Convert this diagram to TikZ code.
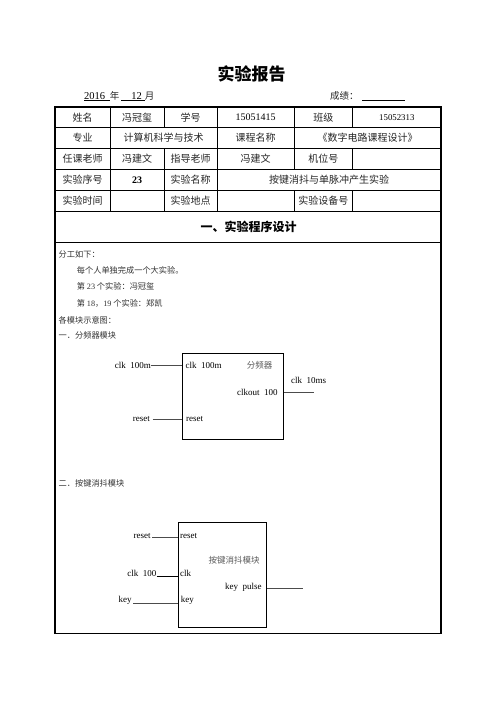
\documentclass[tikz,border=0pt]{standalone}
\usepackage{fontspec}
\usetikzlibrary{calc}
\setmainfont{Liberation Serif}
\newfontfamily\cjk{Noto Sans CJK SC}
\newfontfamily\tm{Liberation Serif}
\newcommand\gp{\hspace{0.5em}}
\begin{document}
\begin{tikzpicture}[x=1pt,y=-1pt,
  tcell/.style={inner sep=0, text=black!85, font=\cjk\fontsize{10}{12}\selectfont},
  tnum/.style={inner sep=0, text=black, font=\tm\fontsize{10}{12}\selectfont},
  body/.style={anchor=west, inner sep=0, text=black!80, font=\cjk\fontsize{8.2}{10}\selectfont},
  lbl/.style={inner sep=0, text=black, font=\tm\fontsize{9}{10}\selectfont},
  blabel/.style={inner sep=0, text=black!65, font=\cjk\fontsize{8.5}{10}\selectfont},
  inner/.style={line width=0.6pt, black},
  outer/.style={line width=1.2pt, black},
  wire/.style={line width=0.9pt, black!70},
  modbox/.style={draw, line width=0.9pt, inner sep=0, fill=none}
]
\useasboundingbox (0,0) rectangle (496,702);
\fill[white] (0,0) rectangle (496,702);

% title
\node[inner sep=0, font=\cjk\bfseries\fontsize{17}{20}\selectfont] (title) at (251.7,73.5) {实验报告};

% date line
\node[tnum, anchor=base, font=\tm\fontsize{10.5}{12}\selectfont] (yr) at (94.5,99) {2016};
\node[tcell, font=\cjk\fontsize{9.5}{12}\selectfont] (nian) at (114.5,96) {年};
\node[tnum, anchor=base, font=\tm\fontsize{10.5}{12}\selectfont] (mo) at (136.5,99) {12};
\node[tcell, font=\cjk\fontsize{9.5}{12}\selectfont] (yue) at (149.5,96) {月};
\draw[line width=0.7pt] (84,100.6) -- (110,100.6);
\draw[line width=0.7pt] (121,100.6) -- (145,100.6);
\node[tcell, anchor=west, font=\cjk\fontsize{9.5}{12}\selectfont] (cj) at (330,96) {成绩：};
\draw[line width=0.7pt] (362,100.6) -- (405,100.6);

% table lines
\foreach \yy in {127.7,148.3,169.3,190.3,211.7,242.7}
  \draw[inner] (55,\yy) -- (441,\yy);
\draw[inner] (110,107) -- (110,211.7);
\draw[inner] (164.3,107) -- (164.3,127.7);
\draw[inner] (164.3,148.3) -- (164.3,211.7);
\draw[inner] (217,107) -- (217,211.7);
\draw[inner] (294,107) -- (294,169.3);
\draw[inner] (294,190.3) -- (294,211.7);
\draw[inner] (352.7,107) -- (352.7,127.7);
\draw[inner] (352.7,148.3) -- (352.7,169.3);
\draw[inner] (352.7,190.3) -- (352.7,211.7);
\draw[outer] (55,107) rectangle (441,633.3);

% row 1
\node[tcell] (r1a) at (82.5,117.3) {姓名};
\node[tcell] (r1b) at (137,117.3) {冯冠玺};
\node[tcell] (r1c) at (190.7,117.3) {学号};
\node[tnum] (r1d) at (255.5,117.6) {15051415};
\node[tcell] (r1e) at (323.3,117.3) {班级};
\node[tnum, font=\tm\fontsize{8.8}{10}\selectfont] (r1f) at (396.8,118) {15052313};
% row 2
\node[tcell] (r2a) at (82.5,138) {专业};
\node[tcell] (r2b) at (163.5,138) {计算机科学与技术};
\node[tcell] (r2c) at (255.5,138) {课程名称};
\node[tcell] (r2d) at (367.5,138) {《数字电路课程设计》};
% row 3
\node[tcell] (r3a) at (82.5,158.8) {任课老师};
\node[tcell] (r3b) at (137,158.8) {冯建文};
\node[tcell] (r3c) at (190.7,158.8) {指导老师};
\node[tcell] (r3d) at (255.5,158.8) {冯建文};
\node[tcell] (r3e) at (323.3,158.8) {机位号};
% row 4
\node[tcell] (r4a) at (82.5,179.8) {实验序号};
\node[tnum, font=\tm\bfseries\fontsize{10}{12}\selectfont] (r4b) at (137,180) {23};
\node[tcell] (r4c) at (190.7,179.8) {实验名称};
\node[tcell] (r4d) at (329,179.8) {按键消抖与单脉冲产生实验};
% row 5
\node[tcell] (r5a) at (82.5,201) {实验时间};
\node[tcell] (r5c) at (190.7,201) {实验地点};
\node[tcell] (r5e) at (323.3,201) {实验设备号};

% heading
\node[inner sep=0, font=\cjk\bfseries\fontsize{12}{14}\selectfont] (head) at (248.5,227.2) {一、实验程序设计};

% body text
\node[body] (t1) at (58.5,254.3) {分工如下：};
\node[body] (t2) at (76.7,270.3) {每个人单独完成一个大实验。};
\node[body] (t3) at (76.7,286.7) {第 {\tm 23} 个实验：冯冠玺};
\node[body] (t4) at (76.7,303.3) {第 {\tm 18}，{\tm 19} 个实验：郑凯};
\node[body] (t5) at (58.5,320.5) {各模块示意图：};
\node[body] (t6) at (58.5,335.7) {一．分频器模块};
\node[body] (t7) at (58.5,483.5) {二．按键消抖模块};

% module 1: divider
\node[modbox, minimum width=101pt, minimum height=85.7pt] (box1) at (232.8,396.2) {};
\node[lbl, anchor=east] (a1) at (151,365.7) {clk\gp100m};
\node[lbl, anchor=west] (a1i) at (185.5,365.7) {clk\gp100m};
\node[blabel] (b1t) at (259.7,365.5) {分频器};
\node[lbl, anchor=west] (o1l) at (291,380) {clk\gp10ms};
\node[lbl, anchor=east] (o1i) at (277.7,392.3) {clkout\gp100};
\node[lbl, anchor=east] (r1) at (150,419.2) {reset};
\node[lbl, anchor=west] (r1i) at (186,419.2) {reset};
\coordinate (o1) at (314.3,392.9);
\draw[wire] (a1.east) -- (a1.east -| box1.west);
\draw[wire] ($(r1.east)+(2.5,0)$) -- (r1.east -| box1.west);
\draw[wire] (o1 -| box1.east) -- (o1);

% module 2: debounce
\node[modbox, minimum width=88.4pt, minimum height=105pt] (box2) at (222.5,574.8) {};
\node[lbl, anchor=east] (r2) at (150.7,535.8) {reset};
\node[lbl, anchor=west] (r2i) at (180,535.8) {reset};
\node[blabel] (b2t) at (234,560.7) {按键消抖模块};
\node[lbl, anchor=east] (c2) at (156.5,573.5) {clk\gp100};
\node[lbl, anchor=west] (c2i) at (180,573.5) {clk};
\node[lbl, anchor=east] (kp) at (261.7,587.2) {key\gp pulse};
\node[lbl, anchor=east] (k2) at (131.7,600.8) {key};
\node[lbl, anchor=west] (k2i) at (180.7,600.8) {key};
\coordinate (o2) at (302.7,588.4);
\coordinate (rr2) at (152,537.8);
\coordinate (cc2) at (156.7,576);
\coordinate (kk2) at (133.3,603.3);
\draw[wire] (rr2) -- (rr2 -| box2.west);
\draw[wire, black] (cc2) -- (cc2 -| box2.west);
\draw[wire] (kk2) -- (kk2 -| box2.west);
\draw[wire] (o2 -| box2.east) -- (o2);
\end{tikzpicture}
\end{document}
